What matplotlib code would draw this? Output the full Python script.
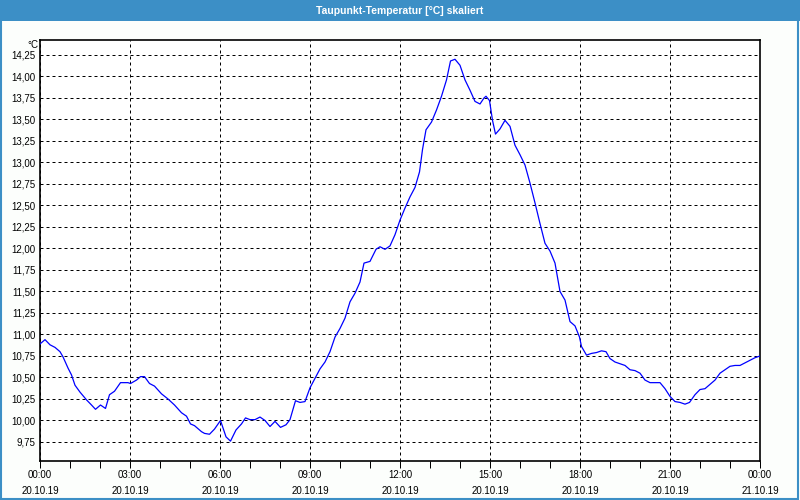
import matplotlib
matplotlib.use("Agg")
import matplotlib.pyplot as plt
from matplotlib.patches import Rectangle
from matplotlib.ticker import FixedLocator, MultipleLocator
import numpy as np

plt.rcParams["font.family"] = ["Liberation Sans", "DejaVu Sans"]

TITLE = "Taupunkt-Temperatur [°C] skaliert"
UNIT = "°C"

# minutes since 20.10.19 00:00
minutes = [0, 10, 20, 30, 40, 46, 56, 63, 70, 80, 93, 103, 111, 121, 131, 139,
           149, 161, 176, 181, 193, 201, 209, 219, 229, 243, 256, 269, 283, 293,
           301, 309, 323, 329, 339, 349, 361, 372, 381, 392, 403, 411, 420, 430,
           440, 450, 460, 470, 481, 492, 500, 511, 520, 530, 540, 550, 560, 570,
           580, 590, 600, 610, 620, 630, 640, 648, 660, 672, 680, 690, 700, 710,
           720, 730, 740, 750, 759, 765, 772, 783, 793, 803, 813, 821, 830, 840,
           850, 860, 870, 880, 888, 892, 899, 905, 911, 920, 930, 940, 950, 960,
           970, 980, 990, 1000, 1010, 1020, 1030, 1040, 1050, 1060, 1070, 1079,
           1083, 1093, 1103, 1113, 1123, 1132, 1140, 1150, 1160, 1170, 1180, 1190,
           1200, 1210, 1220, 1230, 1240, 1250, 1260, 1270, 1280, 1290, 1299, 1310,
           1320, 1330, 1340, 1350, 1360, 1370, 1380, 1390, 1400, 1410, 1420, 1430,
           1440]
dewpoint = [10.89, 10.94, 10.88, 10.85, 10.80, 10.74, 10.61, 10.53, 10.41, 10.33,
            10.24, 10.18, 10.13, 10.18, 10.14, 10.30, 10.34, 10.44, 10.44, 10.43,
            10.47, 10.51, 10.51, 10.43, 10.40, 10.31, 10.25, 10.18, 10.09, 10.05,
            9.96, 9.94, 9.87, 9.85, 9.84, 9.90, 10.00, 9.81, 9.76, 9.89, 9.96,
            10.03, 10.01, 10.01, 10.04, 10.00, 9.93, 9.99, 9.92, 9.95, 10.01,
            10.23, 10.21, 10.22, 10.38, 10.49, 10.60, 10.68, 10.80, 10.97, 11.07,
            11.19, 11.38, 11.48, 11.61, 11.83, 11.85, 11.99, 12.02, 11.99, 12.03,
            12.16, 12.33, 12.47, 12.60, 12.71, 12.89, 13.15, 13.38, 13.47, 13.61,
            13.77, 13.96, 14.18, 14.20, 14.13, 13.96, 13.84, 13.71, 13.68, 13.75,
            13.77, 13.72, 13.49, 13.33, 13.39, 13.49, 13.42, 13.20, 13.09, 12.97,
            12.76, 12.53, 12.29, 12.06, 11.97, 11.83, 11.50, 11.40, 11.15, 11.10,
            10.97, 10.86, 10.76, 10.78, 10.79, 10.81, 10.80, 10.72, 10.68, 10.66,
            10.64, 10.59, 10.58, 10.55, 10.47, 10.44, 10.44, 10.44, 10.37, 10.28,
            10.22, 10.21, 10.19, 10.21, 10.30, 10.36, 10.37, 10.42, 10.47, 10.55,
            10.59, 10.63, 10.64, 10.64, 10.67, 10.70, 10.73, 10.75]

tick_hours = [0, 3, 6, 9, 12, 15, 18, 21, 24]
tick_times = ["00:00", "03:00", "06:00", "09:00", "12:00", "15:00", "18:00",
              "21:00", "00:00"]
tick_dates = ["20.10.19"] * 8 + ["21.10.19"]
y_ticks = np.arange(9.75, 14.26, 0.25)

BAR = "#3c8fc6"
BG = "#fcfefc"
PX = 0.72  # one pixel in points at 100 dpi

fig = plt.figure(figsize=(8, 5), dpi=100, facecolor=BG)

# title bar and frame
fig.patches.append(Rectangle((0, 1 - 21 / 500), 1, 21 / 500, transform=fig.transFigure,
                             facecolor=BAR, edgecolor="none", zorder=0))
fig.patches.append(Rectangle((0.001, 0.002), 0.997, 0.996, transform=fig.transFigure,
                             facecolor="none", edgecolor=BAR, linewidth=1.5, zorder=1))
fig.text(0.5, 1 - 10.5 / 500, TITLE, color="white", fontsize=7.5, fontweight="bold",
         ha="center", va="center")

ax = fig.add_axes([40 / 800, 1 - 461 / 500, 720 / 800, 421 / 500])
ax.set_facecolor("white")

hours = np.array(minutes) / 60.0
ax.plot(hours, dewpoint, color="#0000ff", linewidth=0.9, zorder=3)

ax.set_xlim(0, 24)
ax.set_ylim(9.529, 14.424)

ax.xaxis.set_major_locator(FixedLocator(tick_hours))
ax.xaxis.set_minor_locator(MultipleLocator(1))
ax.set_xticklabels([f"{t}\n{d}" for t, d in zip(tick_times, tick_dates)],
                   fontsize=7, linespacing=1.75)
ax.set_yticks(y_ticks)
ax.set_yticklabels([f"{v:.2f}".replace(".", ",") for v in y_ticks], fontsize=7)

ax.tick_params(axis="x", which="both", direction="out", length=5, width=PX,
               pad=1.5, colors="black")
ax.tick_params(axis="y", length=0, pad=3)

ax.grid(True, which="major", color="black", linestyle=(0, (3, 3)), linewidth=PX)
for s in ax.spines.values():
    s.set_linewidth(1.2)
    s.set_color("black")

fig.text(38 / 800, 1 - 45 / 500, UNIT, fontsize=7, ha="right", va="center")

fig.savefig("out.png", dpi=100, facecolor=BG)
